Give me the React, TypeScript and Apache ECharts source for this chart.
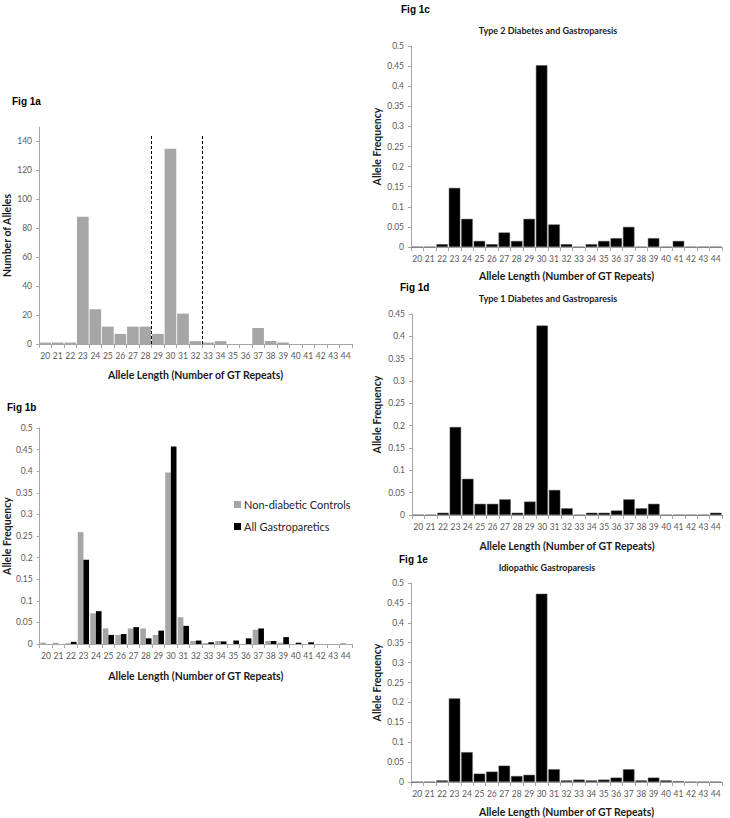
import React, { useEffect, useRef } from "react";
import * as echarts from "echarts";

const categories = ["20","21","22","23","24","25","26","27","28","29","30","31","32","33","34","35","36","37","38","39","40","41","42","43","44"];

const fig1aCounts = [1, 1, 1, 88, 24, 12, 7, 12, 12, 7, 135, 21, 2, 1, 2, 0, 0, 11, 2, 1, 0, 0, 0, 0, 0];
const fig1aTicks = [0, 20, 40, 60, 80, 100, 120, 140];
const fig1aDashedAt = [28.5, 32.5];
const fig1aDashedTop = 145;

const fig1bControls = [0.003, 0.003, 0.002, 0.259, 0.071, 0.036, 0.021, 0.036, 0.036, 0.021, 0.397, 0.062, 0.007, 0.002, 0.007, 0, 0, 0.033, 0.007, 0.003, 0, 0, 0, 0, 0.002];
const fig1bGastro = [0, 0, 0.005, 0.195, 0.076, 0.021, 0.023, 0.039, 0.013, 0.031, 0.457, 0.042, 0.008, 0.004, 0.006, 0.008, 0.013, 0.036, 0.007, 0.016, 0.003, 0.004, 0, 0, 0];

const fig1cType2 = [0, 0, 0.007, 0.147, 0.07, 0.015, 0.007, 0.036, 0.015, 0.07, 0.452, 0.056, 0.007, 0, 0.007, 0.015, 0.022, 0.05, 0, 0.022, 0, 0.015, 0, 0, 0];
const fig1dType1 = [0, 0, 0.005, 0.197, 0.081, 0.025, 0.025, 0.035, 0.005, 0.03, 0.424, 0.056, 0.015, 0, 0.005, 0.005, 0.01, 0.035, 0.015, 0.025, 0, 0, 0, 0, 0.005];
const fig1eIdiopathic = [0, 0, 0.004, 0.21, 0.075, 0.021, 0.026, 0.041, 0.015, 0.018, 0.473, 0.032, 0.004, 0.006, 0.004, 0.006, 0.011, 0.032, 0.004, 0.011, 0.004, 0.002, 0, 0, 0];

const figLabels = ["Fig 1a", "Fig 1b", "Fig 1c", "Fig 1d", "Fig 1e"];
const panelTitles = ["Type 2 Diabetes and Gastroparesis", "Type 1 Diabetes and Gastroparesis", "Idiopathic Gastroparesis"];
const xAxisTitle = "Allele Length (Number of GT Repeats)";
const legendNames = ["Non-diabetic Controls", "All Gastroparetics"];

const FONT = "Lato, 'Liberation Sans', sans-serif";
const AXIS_COLOR = "#a6a6a6";
const LABEL_COLOR = "#595959";
const GRAY = "#a6a6a6";

export default function App() {
  const ref = useRef<HTMLDivElement>(null);

  useEffect(() => {
    if (!ref.current) return;
    const chart = echarts.init(ref.current, null, { renderer: "svg" });

    const grids = [
      { left: 39, top: 127, width: 313, height: 217 },
      { left: 39, top: 428, width: 313, height: 216 },
      { left: 411, top: 46, width: 311, height: 201 },
      { left: 412, top: 314, width: 310, height: 201 },
      { left: 411, top: 583, width: 311, height: 201 },
    ];
    const xNameGaps = [25, 26, 23, 25, 24];
    const yNameGaps = [27, 27, 29, 30, 29];
    const yNames = ["Number of Alleles", "Allele Frequency", "Allele Frequency", "Allele Frequency", "Allele Frequency"];
    const yMax = [150, 0.5, 0.5, 0.45, 0.5];
    const yInterval = [20, 0.05, 0.05, 0.05, 0.05];

    const xAxes: any[] = grids.map((_, i) => ({
      type: "category",
      gridIndex: i,
      data: categories,
      boundaryGap: true,
      name: xAxisTitle,
      nameLocation: "middle",
      nameGap: xNameGaps[i],
      nameTextStyle: { fontFamily: FONT, fontWeight: "bold", fontSize: 10.5, color: "#1a1a1a" },
      axisLine: { show: true, lineStyle: { color: AXIS_COLOR, width: 1 } },
      axisTick: { show: true, interval: 0, alignWithLabel: false, length: 4, lineStyle: { color: AXIS_COLOR } },
      axisLabel: { interval: 0, fontFamily: FONT, fontSize: 8.5, color: LABEL_COLOR, margin: 7 },
      splitLine: { show: false },
    }));
    // hidden value axis on panel 1a for the dashed boundary lines
    xAxes.push({ type: "value", gridIndex: 0, min: 19.5, max: 44.5, show: false });

    const yAxes: any[] = grids.map((_, i) => ({
      type: "value",
      gridIndex: i,
      min: 0,
      max: yMax[i],
      interval: yInterval[i],
      name: yNames[i],
      nameLocation: "middle",
      nameGap: yNameGaps[i],
      nameTextStyle: { fontFamily: FONT, fontWeight: "bold", fontSize: 10.5, color: "#1a1a1a" },
      axisLine: { show: true, lineStyle: { color: AXIS_COLOR, width: 1 } },
      axisTick: i === 0
        ? { show: true, length: 3, lineStyle: { color: AXIS_COLOR }, customValues: fig1aTicks }
        : { show: true, length: 3, lineStyle: { color: AXIS_COLOR } },
      axisLabel: i === 0
        ? { fontFamily: FONT, fontSize: 8.5, color: LABEL_COLOR, margin: 7, customValues: fig1aTicks }
        : { fontFamily: FONT, fontSize: 8.5, color: LABEL_COLOR, margin: 7 },
      splitLine: { show: false },
    }));

    const blackBar = (data: number[], idx: number) => ({
      type: "bar",
      xAxisIndex: idx,
      yAxisIndex: idx,
      data,
      barCategoryGap: "8%",
      itemStyle: { color: "#000", borderColor: "#555", borderWidth: 0.5 },
    });

    const series: any[] = [
      {
        type: "bar",
        xAxisIndex: 0,
        yAxisIndex: 0,
        data: fig1aCounts,
        barCategoryGap: "7%",
        itemStyle: { color: GRAY },
      },
      {
        type: "line",
        xAxisIndex: 5,
        yAxisIndex: 0,
        data: [],
        markLine: {
          silent: true,
          symbol: "none",
          label: { show: false },
          lineStyle: { type: [3, 2], color: "#000", width: 1 },
          data: fig1aDashedAt.map((x) => [{ coord: [x, 0] }, { coord: [x, fig1aDashedTop] }]),
        },
      },
      {
        name: legendNames[0],
        type: "bar",
        xAxisIndex: 1,
        yAxisIndex: 1,
        data: fig1bControls,
        barGap: "0%",
        barCategoryGap: "10%",
        itemStyle: { color: GRAY },
      },
      {
        name: legendNames[1],
        type: "bar",
        xAxisIndex: 1,
        yAxisIndex: 1,
        data: fig1bGastro,
        barGap: "0%",
        barCategoryGap: "10%",
        itemStyle: { color: "#000" },
      },
      blackBar(fig1cType2, 2),
      blackBar(fig1dType1, 3),
      blackBar(fig1eIdiopathic, 4),
    ];

    const figLabelPos = [
      { left: 12, top: 96 },
      { left: 7, top: 402 },
      { left: 401, top: 4 },
      { left: 400, top: 282 },
      { left: 399, top: 554 },
    ];
    const subTitlePos = [
      { cx: 548, top: 26 },
      { cx: 548, top: 294 },
      { cx: 547, top: 563 },
    ];

    const graphics: any[] = [
      ...figLabels.map((t, i) => ({
        type: "text",
        left: figLabelPos[i].left,
        top: figLabelPos[i].top,
        style: { text: t, font: "bold 10px 'Liberation Sans', Arial, sans-serif", fill: "#000" },
      })),
      ...panelTitles.map((t, i) => ({
        type: "text",
        x: subTitlePos[i].cx,
        y: subTitlePos[i].top,
        style: { text: t, font: `bold 9px ${FONT}`, fill: "#1a1a1a", textAlign: "center" },
      })),
    ];

    chart.setOption({
      animation: false,
      backgroundColor: "#fff",
      grid: grids,
      xAxis: xAxes,
      yAxis: yAxes,
      series,
      legend: {
        data: legendNames,
        orient: "vertical",
        left: 229,
        top: 494,
        itemWidth: 7,
        itemHeight: 7,
        itemGap: 11,
        icon: "rect",
        textStyle: { fontFamily: FONT, fontSize: 11, color: "#262626", padding: [0, 0, 0, -2] },
        selectedMode: false,
      },
      graphic: graphics,
    });

    return () => chart.dispose();
  }, []);

  return (
    <div
      ref={ref}
      style={{ position: "fixed", left: 0, top: 0, width: 730, height: 818, background: "#fff" }}
    />
  );
}
